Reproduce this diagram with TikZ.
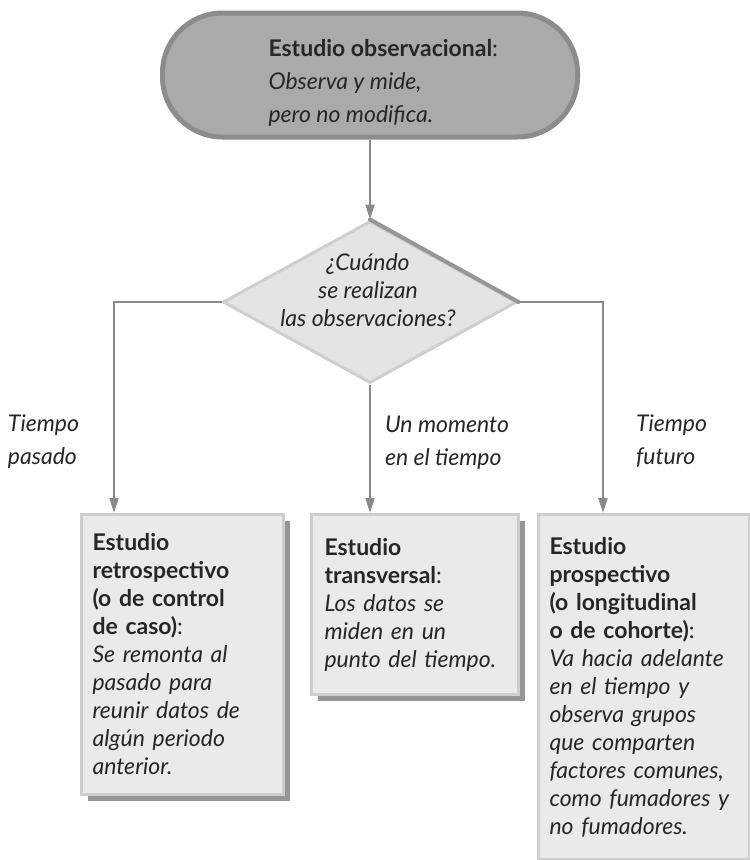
\documentclass[tikz,border=0pt]{standalone}
\usepackage{fontspec}
\setmainfont{Lato}
\usepackage{tikz}
\usetikzlibrary{shapes.geometric, arrows.meta, positioning, calc, shadows}
\definecolor{obsgray}{RGB}{170,170,170}
\definecolor{obsedge}{RGB}{140,140,140}
\definecolor{boxfill}{RGB}{234,234,234}
\definecolor{boxedge}{RGB}{206,206,206}
\definecolor{boxshadow}{RGB}{150,150,150}
\definecolor{diamondfill}{RGB}{228,228,228}
\definecolor{diamondedge}{RGB}{150,150,150}
\definecolor{arrowgray}{RGB}{138,138,138}
\definecolor{inkgray}{RGB}{38,38,38}

\begin{document}
\begin{tikzpicture}[x=1pt, y=-1pt,
    txt/.style={font=\fontsize{23}{28}\selectfont, text=inkgray, align=left},
    studybox/.style={txt, anchor=north west, fill=boxfill, draw=boxedge, line width=3pt,
        drop shadow={shadow xshift=6pt, shadow yshift=-6pt, fill=boxshadow, opacity=1}},
    flow/.style={draw=arrowgray, line width=2pt, -{Triangle[width=9pt, length=15pt]}},
    lbl/.style={txt, inner sep=0pt, font=\fontsize{23}{33}\selectfont\itshape}
]
    \useasboundingbox (0,0) rectangle (750,860);

    % Start: observational study
    \node[rectangle, rounded corners=60pt, minimum width=415pt, minimum height=124pt,
          fill=obsgray, draw=obsedge, line width=5pt] (obs) at (370,75) {};
    \node[txt, font=\fontsize{23}{33}\selectfont, anchor=west] (obstext) at (265,83)
        {\bfseries Estudio observacional\mdseries:\\
         \itshape Observa y mide,\\
         \itshape pero no modifica.};

    % Decision
    \node[diamond, minimum width=294pt, minimum height=162pt, inner sep=0pt,
          fill=diamondfill, draw=boxedge, line width=3pt] (when) at (370,302) {};
    \draw[diamondedge, line width=4pt, line cap=round] (when.north) -- (when.east);
    \node[txt, align=center, font=\fontsize{23}{28}\selectfont\itshape] (whentext) at (368,290)
        {¿Cuándo\\se realizan\\las observaciones?};

    % Three kinds of study
    \node[studybox, text width=180pt, inner xsep=11pt, minimum height=280pt] (past) at (80,513)
        {\bfseries Estudio\\retrospectivo\\(o de control\\de caso)\mdseries:\\
         \itshape Se remonta al\\pasado para\\reunir datos de\\algún periodo\\anterior.};
    \node[studybox, text width=181pt, inner xsep=13pt, minimum height=180pt] (trans) at (310,513)
        {\bfseries Estudio\\transversal\mdseries:\\
         \itshape Los datos se\\miden en un\\punto del tiempo.};
    \node[studybox, text width=189pt, inner xsep=11pt, minimum height=345pt] (future) at (537,513)
        {\bfseries Estudio\\prospectivo\\(o longitudinal\\o de cohorte)\mdseries:\\
         \itshape Va hacia adelante\\en el tiempo y\\observa grupos\\que comparten\\factores comunes,\\como fumadores y\\no fumadores.};

    % Connectors
    \draw[flow] (obs.south) -- (when.north);
    \draw[flow] (when.west) -| node[lbl, pos=0.83, left=34pt] (pastlbl) {Tiempo\\pasado}
        ([xshift=34pt]past.north west);
    \draw[flow] (when.south) -- node[lbl, pos=0.45, right=14pt] (translbl) {Un momento\\en el tiempo}
        (when.south |- trans.north);
    \draw[flow] (when.east) -| node[lbl, pos=0.83, right=32pt] (futurelbl) {Tiempo\\futuro}
        ([xshift=66pt]future.north west);
\end{tikzpicture}
\end{document}
